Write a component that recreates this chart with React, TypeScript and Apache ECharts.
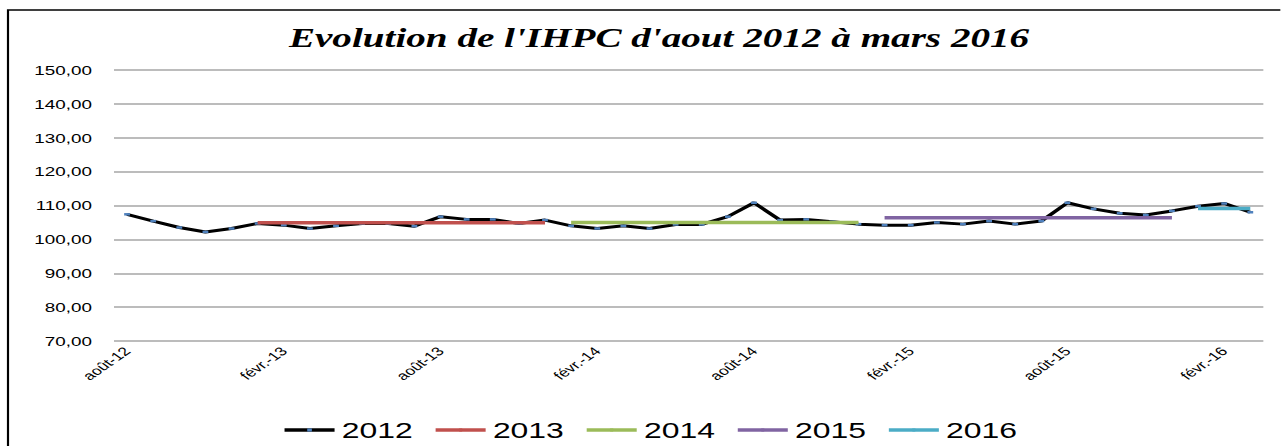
import React, { useEffect, useRef } from "react";
import * as echarts from "echarts";

const S = 1.45; // horizontal stretch of the reference picture
const W = 1281 / S;
const H = 446;

const months = [
  "août-12", "sept.-12", "oct.-12", "nov.-12", "déc.-12",
  "janv.-13", "févr.-13", "mars-13", "avr.-13", "mai-13", "juin-13", "juil.-13", "août-13", "sept.-13", "oct.-13", "nov.-13", "déc.-13",
  "janv.-14", "févr.-14", "mars-14", "avr.-14", "mai-14", "juin-14", "juil.-14", "août-14", "sept.-14", "oct.-14", "nov.-14", "déc.-14",
  "janv.-15", "févr.-15", "mars-15", "avr.-15", "mai-15", "juin-15", "juil.-15", "août-15", "sept.-15", "oct.-15", "nov.-15", "déc.-15",
  "janv.-16", "févr.-16", "mars-16",
];

const ihpc = [
  107.4, 105.4, 103.5, 102.2, 103.2,
  104.7, 104.2, 103.2, 104.0, 104.7, 104.7, 103.9, 106.7, 105.9, 105.9, 104.7, 105.7,
  104.0, 103.2, 104.0, 103.2, 104.4, 104.4, 106.7, 110.8, 105.7, 105.9, 105.2, 104.5,
  104.2, 104.2, 105.0, 104.5, 105.4, 104.5, 105.4, 110.8, 109.0, 107.7, 107.2, 108.4,
  109.8, 110.6, 108.0,
];

// yearly averages, drawn from the first to the last month of each year
const avg2013 = [["janv.-13", 104.9], ["déc.-13", 104.9]];
const avg2014 = [["janv.-14", 105.0], ["déc.-14", 105.0]];
const avg2015 = [["janv.-15", 106.4], ["déc.-15", 106.4]];
const avg2016 = [["janv.-16", 109.1], ["mars-16", 109.1]];

const yTicks = { min: 70, max: 150, interval: 10 };

export default function App() {
  const ref = useRef<HTMLDivElement>(null);
  useEffect(() => {
    if (!ref.current) return;
    const chart = echarts.init(ref.current, null, { renderer: "svg" });
    const avgSeries = (name: string, data: any[], color: string) => ({
      name,
      type: "line",
      data,
      symbol: "none",
      lineStyle: { color, width: 3.5 },
      itemStyle: { color },
      z: 3,
    });
    chart.setOption({
      animation: false,
      backgroundColor: "#fff",
      graphic: [
        {
          type: "rect",
          silent: true,
          z: -10,
          shape: { x: 8 / S, y: 10, width: 2000, height: 2000 },
          style: { fill: "none", stroke: "#000", lineWidth: 1.5 },
        },
        {
          type: "text",
          x: 659 / S,
          y: 38,
          style: {
            text: "Evolution de l'IHPC d'aout 2012 à mars 2016",
            textAlign: "center",
            textVerticalAlign: "middle",
            fontFamily: "Liberation Serif",
            fontStyle: "italic",
            fontWeight: "bold",
            fontSize: 27,
            fill: "#000",
          },
        },
      ],
      grid: { left: 114 / S, right: 17 / S, top: 70, bottom: H - 341 },
      legend: {
        left: 282 / S,
        top: 419,
        padding: 0,
        itemWidth: 34.5,
        itemHeight: 4,
        itemGap: 14,
        lineStyle: { width: 3.5 },
        textStyle: { fontSize: 22, color: "#000", fontFamily: "Liberation Sans", padding: [0, 0, 0, 0] },
        data: ["2012", "2013", "2014", "2015", "2016"],
      },
      xAxis: {
        type: "category",
        data: months,
        boundaryGap: true,
        axisLine: { show: false },
        axisTick: { show: false },
        splitLine: { show: false },
        axisLabel: {
          interval: 5,
          rotate: 45,
          fontSize: 12,
          margin: 8,
          color: "#000",
          fontFamily: "Liberation Sans",
        },
      },
      yAxis: {
        type: "value",
        ...yTicks,
        axisLine: { show: false },
        axisTick: { show: false },
        splitLine: { lineStyle: { color: "#A6A6A6", width: 1.5 } },
        axisLabel: {
          fontSize: 13,
          margin: 22 / S,
          color: "#000",
          fontFamily: "Liberation Sans",
          formatter: (v: number) => v.toFixed(2).replace(".", ","),
        },
      },
      series: [
        {
          name: "2012",
          type: "line",
          data: ihpc,
          symbol: "rect",
          symbolSize: [4, 2.5],
          showSymbol: true,
          lineStyle: { color: "#000", width: 3 },
          itemStyle: { color: "#4F81BD" },
          z: 2,
        },
        avgSeries("2013", avg2013, "#C0504D"),
        avgSeries("2014", avg2014, "#9BBB59"),
        avgSeries("2015", avg2015, "#8064A2"),
        avgSeries("2016", avg2016, "#4BACC6"),
      ],
    });
    return () => chart.dispose();
  }, []);
  return (
    <div
      ref={ref}
      style={{
        position: "fixed",
        left: 0,
        top: 0,
        width: W,
        height: H,
        transform: `scaleX(${S})`,
        transformOrigin: "0 0",
        background: "#fff",
      }}
    />
  );
}
